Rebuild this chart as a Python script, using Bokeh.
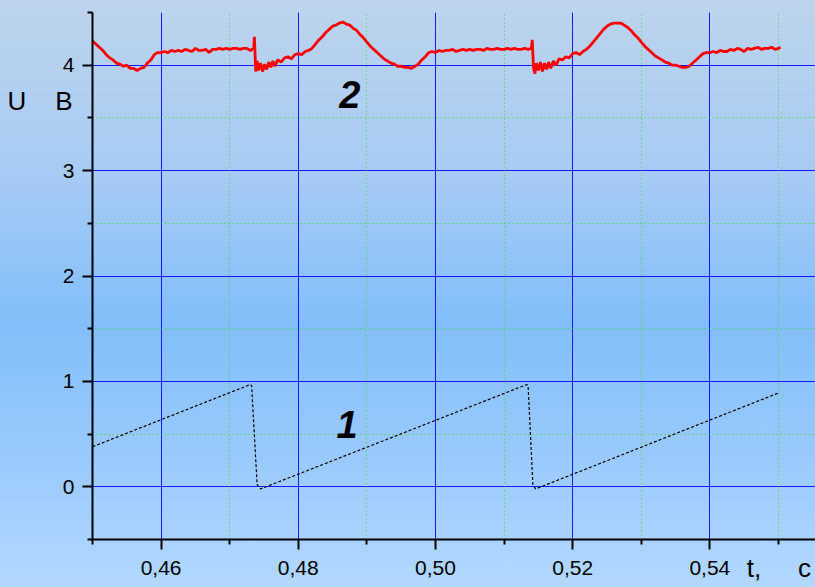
from bokeh.plotting import figure
from bokeh.models import (FixedTicker, Grid, Label, CustomJSTickFormatter, LinearAxis,
                          GlobalInlineStyleSheet, Range1d)
from bokeh.embed import file_html
from bokeh.resources import INLINE

# ---- data -------------------------------------------------------------
# curve 2 (red), U in volts vs t in seconds
t2 = [0.4500, 0.4505, 0.4510, 0.4515, 0.4520, 0.4525, 0.4530, 0.4535, 0.4540, 0.4545,
      0.4550, 0.4555, 0.4560, 0.4565, 0.4570, 0.4575, 0.4580, 0.4585, 0.4590, 0.4595,
      0.4600, 0.4605, 0.4610, 0.4615, 0.4620, 0.4625, 0.4630, 0.4635, 0.4640, 0.4645,
      0.4650, 0.4655, 0.4660, 0.4665, 0.4670, 0.4675, 0.4680, 0.4685, 0.4690, 0.4695,
      0.4700, 0.4705, 0.4710, 0.4715, 0.4720, 0.4725, 0.4730, 0.4735,
      0.4736, 0.4738, 0.4740, 0.4742, 0.4745, 0.4748, 0.4751, 0.4754, 0.4757, 0.4760,
      0.4763, 0.4766, 0.4770, 0.4775, 0.4780, 0.4785, 0.4790, 0.4795, 0.4800, 0.4805,
      0.4810, 0.4815, 0.4820, 0.4825, 0.4830, 0.4835, 0.4840, 0.4845, 0.4850, 0.4855,
      0.4860, 0.4865, 0.4870, 0.4875, 0.4880, 0.4885, 0.4890, 0.4895, 0.4900, 0.4905,
      0.4910, 0.4915, 0.4920, 0.4925, 0.4930, 0.4935, 0.4940, 0.4945, 0.4950, 0.4955,
      0.4960, 0.4965, 0.4970, 0.4975, 0.4980, 0.4985, 0.4990, 0.4995, 0.5000, 0.5005,
      0.5010, 0.5015, 0.5020, 0.5025, 0.5030, 0.5035, 0.5040, 0.5045, 0.5050, 0.5055,
      0.5060, 0.5065, 0.5070, 0.5075, 0.5080, 0.5085, 0.5090, 0.5095, 0.5100, 0.5105,
      0.5110, 0.5115, 0.5120, 0.5125, 0.5130, 0.5135, 0.5140,
      0.5141, 0.5143, 0.5145, 0.5147, 0.5150, 0.5153, 0.5156, 0.5159, 0.5162, 0.5165,
      0.5168, 0.5172, 0.5176, 0.5180, 0.5185, 0.5190, 0.5195, 0.5200, 0.5205, 0.5210,
      0.5215, 0.5220, 0.5225, 0.5230, 0.5235, 0.5240, 0.5245, 0.5250, 0.5255, 0.5260,
      0.5265, 0.5270, 0.5275, 0.5280, 0.5285, 0.5290, 0.5295, 0.5300, 0.5305, 0.5310,
      0.5315, 0.5320, 0.5325, 0.5330, 0.5335, 0.5340, 0.5345, 0.5350, 0.5355, 0.5360,
      0.5365, 0.5370, 0.5375, 0.5380, 0.5385, 0.5390, 0.5395, 0.5400, 0.5405, 0.5410,
      0.5415, 0.5420, 0.5425, 0.5430, 0.5435, 0.5440, 0.5445, 0.5450, 0.5455, 0.5460,
      0.5465, 0.5470, 0.5475, 0.5480, 0.5485, 0.5490, 0.5495, 0.5500, 0.5503]
u2 = [4.23, 4.20, 4.17, 4.14, 4.10, 4.07, 4.05, 4.02, 4.01, 3.99,
      4.00, 3.97, 3.97, 3.95, 3.97, 3.98, 4.02, 4.05, 4.10, 4.12,
      4.12, 4.13, 4.12, 4.14, 4.13, 4.14, 4.13, 4.15, 4.14, 4.13,
      4.16, 4.14, 4.14, 4.15, 4.12, 4.15, 4.15, 4.16, 4.15, 4.16,
      4.15, 4.16, 4.16, 4.15, 4.16, 4.16, 4.14, 4.16,
      4.27, 3.94, 4.04, 3.95, 4.02, 3.94, 4.01, 3.96, 4.03, 3.98,
      4.04, 3.99, 4.05, 4.03, 4.07, 4.08, 4.06, 4.10, 4.11, 4.10,
      4.13, 4.14, 4.16, 4.20, 4.24, 4.27, 4.31, 4.34, 4.37, 4.38,
      4.40, 4.41, 4.39, 4.38, 4.35, 4.33, 4.29, 4.26, 4.22, 4.18,
      4.15, 4.12, 4.09, 4.06, 4.04, 4.02, 4.01, 3.99, 3.99, 3.98,
      3.98, 3.97, 3.99, 4.01, 4.05, 4.08, 4.12, 4.13, 4.12, 4.14,
      4.13, 4.14, 4.14, 4.15, 4.13, 4.14, 4.15, 4.14, 4.15, 4.14,
      4.15, 4.15, 4.14, 4.16, 4.15, 4.15, 4.16, 4.15, 4.15, 4.16,
      4.15, 4.16, 4.15, 4.15, 4.16, 4.15, 4.16,
      4.24, 3.97, 3.92, 4.02, 3.95, 4.03, 3.94, 4.02, 3.96, 4.03,
      3.97, 4.04, 4.00, 4.06, 4.05, 4.08, 4.07, 4.11, 4.12, 4.10,
      4.13, 4.15, 4.18, 4.22, 4.26, 4.30, 4.34, 4.37, 4.39, 4.40,
      4.40, 4.40, 4.38, 4.36, 4.33, 4.29, 4.26, 4.22, 4.18, 4.15,
      4.12, 4.09, 4.07, 4.05, 4.03, 4.02, 4.00, 4.00, 3.99, 3.98,
      3.98, 3.99, 4.02, 4.05, 4.08, 4.11, 4.12, 4.12, 4.13, 4.12,
      4.14, 4.13, 4.13, 4.15, 4.14, 4.16, 4.15, 4.13, 4.16, 4.15,
      4.16, 4.17, 4.15, 4.16, 4.16, 4.17, 4.15, 4.16, 4.17]

# curve 1 (black dotted sawtooth)
t1 = [0.4500, 0.4730, 0.4732, 0.4740, 0.4745, 0.5133, 0.5135, 0.5142, 0.5146, 0.5500]
u1 = [0.38, 0.97, 0.96, 0.02, -0.02, 0.97, 0.96, 0.02, -0.02, 0.89]

y_major = [0, 1, 2, 3, 4]
y_minor = [-0.5, 0.5, 1.5, 2.5, 3.5, 4.5]
x_major = [0.46, 0.48, 0.50, 0.52, 0.54]
x_minor = [0.45, 0.47, 0.49, 0.51, 0.53, 0.55]

y_title_pos = [3.66]              # where "U  B" sits on the value axis
x_title_pos = [0.54643, 0.55379]  # where "t," and "c" sit on the time axis

NB = "\u00a0"

# ---- figure -----------------------------------------------------------
p = figure(width=815, height=587, output_backend="svg", toolbar_location=None,
           x_range=Range1d(0.45, 0.5554), y_range=Range1d(-0.5, 4.5),
           min_border_left=92, min_border_right=0, min_border_top=12,
           min_border_bottom=48)
p.background_fill_color = None
p.border_fill_color = None
p.outline_line_color = None

p.stylesheets = [GlobalInlineStyleSheet(css=(
    "html { background: linear-gradient(to bottom, #bdd4ec 0%, #a6cbf4 30%, "
    "#82befa 55%, #9ccbfd 80%, #b2d8ff 100%) no-repeat fixed; min-height: 100%; }"
    "body { background: transparent; }"))]

fmt = CustomJSTickFormatter(code="return tick.toFixed(2).replace('.', ',');")

for ax in (p.xaxis[0], p.yaxis[0]):
    ax.axis_line_width = 2
    ax.axis_line_color = "black"
    ax.major_tick_line_width = 2
    ax.minor_tick_line_width = 2
    ax.major_tick_line_color = "black"
    ax.minor_tick_line_color = "black"
    ax.major_tick_out = 10
    ax.major_tick_in = 0
    ax.minor_tick_out = 5
    ax.minor_tick_in = 0
    ax.major_label_text_font = "Liberation Sans"
    ax.major_label_text_font_size = "21px"
    ax.major_label_text_color = "black"

p.xaxis[0].ticker = FixedTicker(ticks=x_major, minor_ticks=x_minor)
p.yaxis[0].ticker = FixedTicker(ticks=y_major, minor_ticks=y_minor)
p.xaxis[0].formatter = fmt
p.xaxis[0].major_label_standoff = 11
p.yaxis[0].major_label_standoff = 8


def title_axis(ticks, code, standoff):
    a = LinearAxis(ticker=FixedTicker(ticks=ticks, minor_ticks=[]),
                   formatter=CustomJSTickFormatter(code=code),
                   axis_line_color=None, major_tick_line_color=None,
                   minor_tick_line_color=None, major_tick_out=0, major_tick_in=0,
                   minor_tick_out=0, minor_tick_in=0,
                   major_label_standoff=standoff,
                   major_label_text_font="Liberation Sans",
                   major_label_text_font_size="26px",
                   major_label_text_color="black")
    return a


p.add_layout(title_axis(y_title_pos, "return 'U" + NB * 4 + "B';", -13), "left")
p.add_layout(title_axis(x_title_pos, "return index == 0 ? 't,' : 'c';", -25), "below")

# major grid
p.xgrid.grid_line_color = "#1818ff"
p.ygrid.grid_line_color = "#1818ff"
p.xgrid.grid_line_width = 1
p.ygrid.grid_line_width = 1

# minor (dotted green) grid
p.add_layout(Grid(dimension=0, ticker=FixedTicker(ticks=x_minor[1:]),
                  grid_line_color="#33dd33", grid_line_dash="1 3", grid_line_width=1))
p.add_layout(Grid(dimension=1, ticker=FixedTicker(ticks=y_minor[1:-1]),
                  grid_line_color="#33dd33", grid_line_dash="1 3", grid_line_width=1))

# series
p.line(t1, u1, line_color="black", line_width=1.2, line_dash="3 2")
p.line(t2, u2, line_color="#ff0000", line_width=2.8)

# curve numbers
p.add_layout(Label(x=0.4875, y=3.722, text="2", text_align="center",
                   text_baseline="middle", text_font="Liberation Sans",
                   text_font_style="bold italic", text_font_size="38px",
                   text_color="black"))
p.add_layout(Label(x=0.4871, y=0.591, text="1", text_align="center",
                   text_baseline="middle", text_font="Liberation Sans",
                   text_font_style="bold italic", text_font_size="38px",
                   text_color="black"))

open("out.html", "w").write(file_html(p, INLINE))
